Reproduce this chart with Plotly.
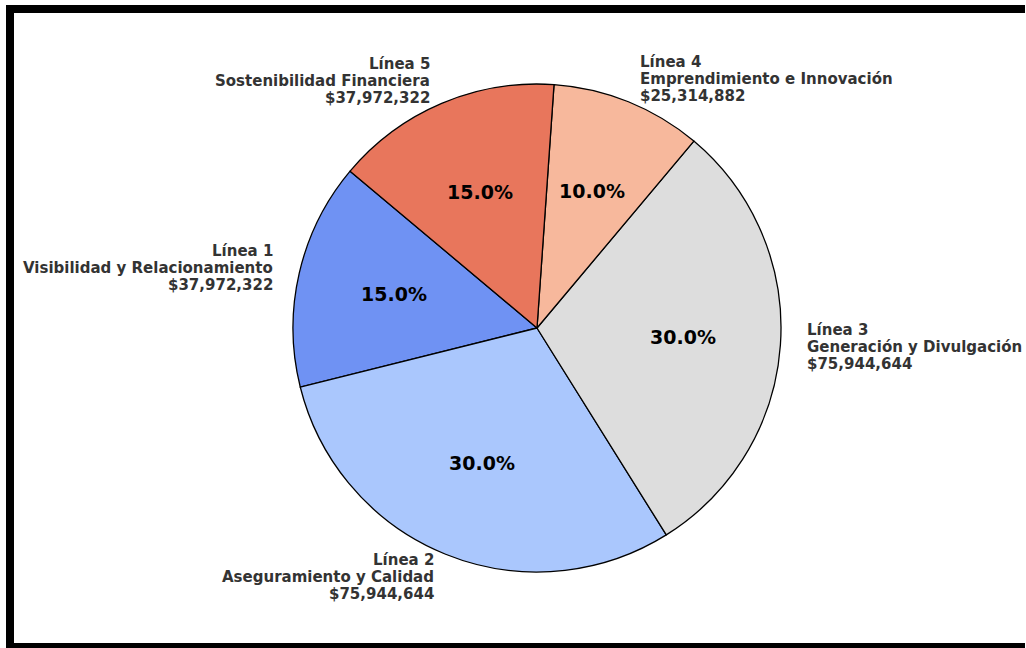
import math
import plotly.graph_objects as go

lineas = ["Línea 1", "Línea 2", "Línea 3", "Línea 4", "Línea 5"]
nombres = ["Visibilidad y Relacionamiento", "Aseguramiento y Calidad",
           "Generación y Divulgación", "Emprendimiento e Innovación",
           "Sostenibilidad Financiera"]
montos = [37972322, 75944644, 75944644, 25314882, 37972322]
colores = ["#6F92F3", "#AAC7FD", "#DDDDDD", "#F7B89C", "#E8765C"]

W, H = 1026, 648
CX, CY, R = 537, 328, 244   # pie centre / radius in pixels (layout)
START = 140                 # start angle, degrees, counter-clockwise
LINE = 17                   # label line spacing, px

total = sum(montos)
first_deg = 360 * montos[0] / total

fig = go.Figure(go.Pie(
    labels=[f"{l} {n}" for l, n in zip(lineas, nombres)],
    values=montos,
    sort=False,
    direction="counterclockwise",
    rotation=-(START + first_deg - 90),
    marker=dict(colors=colores, line=dict(color="black", width=1.3)),
    textinfo="none",
    hoverinfo="label+value+percent",
    showlegend=False,
    domain=dict(x=[(CX - R) / W, (CX + R) / W],
                y=[(H - CY - R) / H, (H - CY + R) / H]),
))

ann = []
acc = 0.0
for l, n, v in zip(lineas, nombres, montos):
    frac = v / total
    mid = math.radians(START + 360 * (acc + frac / 2))
    acc += frac
    c, s = math.cos(mid), math.sin(mid)
    # outer label (three lines, centred on the label point)
    lx = CX + 1.1 * R * c
    ly = CY - 1.1 * R * s
    right = c < 0
    for k, txt in enumerate([l, n, f"${v:,}"]):
        yy = ly + (k - 1) * LINE
        ann.append(dict(
            x=lx / W, y=1 - yy / H, xref="paper", yref="paper",
            text=f"<b>{txt}</b>",
            showarrow=False, xanchor="right" if right else "left",
            yanchor="middle",
            font=dict(family="DejaVu Sans", size=15, color="#333333"),
        ))
    # percentage
    px = CX + 0.6 * R * c
    py = CY - 0.6 * R * s - 1
    ann.append(dict(
        x=px / W, y=1 - py / H, xref="paper", yref="paper",
        text=f"<b>{frac * 100:.1f}%</b>",
        showarrow=False, xanchor="center", yanchor="middle",
        font=dict(family="DejaVu Sans", size=19, color="black"),
    ))

frame = dict(color="black", width=8)
fig.update_layout(
    width=W, height=H,
    margin=dict(l=0, r=0, t=0, b=0),
    paper_bgcolor="white",
    annotations=ann,
    shapes=[
        dict(type="line", xref="paper", yref="paper",
             x0=6 / W, x1=1025 / W, y0=1 - 9 / H, y1=1 - 9 / H, line=frame),
        dict(type="line", xref="paper", yref="paper",
             x0=10 / W, x1=10 / W, y0=0, y1=1 - 5 / H, line=frame),
        dict(type="line", xref="paper", yref="paper",
             x0=6 / W, x1=1025 / W, y0=1 - 647 / H, y1=1 - 647 / H, line=frame),
    ],
)

fig.write_html("out.html",
               config={"displayModeBar": False},
               post_script="document.documentElement.style.margin='0px';"
                           "document.documentElement.style.background='white';"
                           "document.body.style.margin='0px';"
                           "document.body.style.background='white';"
                           "document.body.style.overflow='hidden';")
